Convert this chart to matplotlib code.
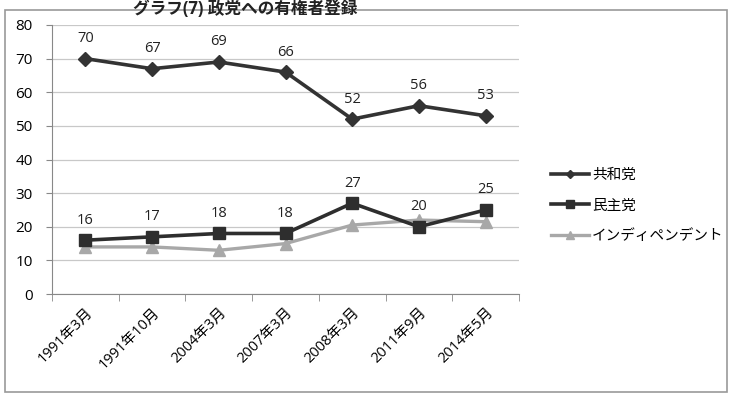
import numpy as np
from matplotlib import pyplot as plt
from matplotlib.patches import Rectangle

plt.rcParams['font.family'] = ['Open Sans', 'Noto Sans CJK JP', 'DejaVu Sans']

#  data
dates = ['1991年3月', '1991年10月', '2004年3月', '2007年3月', '2008年3月', '2011年9月', '2014年5月']
rep = [70, 67, 69, 66, 52, 56, 53]
dem = [16, 17, 18, 18, 27, 20, 25]
ind = [14, 14, 13, 15, 20.5, 22, 21.5]

W, H = 733, 397
fig = plt.figure(figsize=(W/100, H/100), dpi=100)
ax = fig.add_axes([52/W, 1 - 294/H, (519-52)/W, (294-25)/H])

x = np.arange(len(dates))
ax.plot(x, ind, color='#a8a8a8', lw=2.4, marker='^', ms=9, label='インディペンデント', zorder=3)
ax.plot(x, dem, color='#2e2e2e', lw=2.6, marker='s', ms=9, label='民主党', zorder=4)
ax.plot(x, rep, color='#333333', lw=2.6, marker='D', ms=7.5, label='共和党', zorder=4)

for xi, v in zip(x, rep):
    ax.annotate(str(v), (xi, v), xytext=(0, 9), textcoords='offset points',
                ha='center', va='bottom', fontsize=10.5, color='#222222')
for xi, v in zip(x, dem):
    ax.annotate(str(v), (xi, v), xytext=(0, 9), textcoords='offset points',
                ha='center', va='bottom', fontsize=10.5, color='#222222')

ax.set_xlim(-0.5, len(dates) - 0.5)
ax.set_ylim(0, 80)
ax.set_yticks(range(0, 81, 10))
ax.set_xticks(x)
ax.set_xticklabels(dates, rotation=45, ha='right', va='top', rotation_mode='anchor', fontsize=10.5)
ax.set_xticks(np.arange(-0.5, len(dates)), minor=True)
ax.tick_params(axis='x', which='major', length=0, pad=8)
ax.tick_params(axis='x', which='minor', length=5, color='#888888', direction='out')
ax.tick_params(axis='y', length=4, color='#888888', labelsize=11, pad=10)
ax.grid(axis='y', color='#c8c8c8', lw=0.9)
ax.set_axisbelow(True)
for s in ['top', 'right']:
    ax.spines[s].set_visible(False)
ax.spines['left'].set_color('#888888')
ax.spines['bottom'].set_color('#888888')

h, l = ax.get_legend_handles_labels()
fig.legend(h[::-1], l[::-1], loc='upper left', bbox_to_anchor=(538/W, 1 - 155/H),
           frameon=False, fontsize=10.5, handlelength=2.6, labelspacing=1.05,
           handletextpad=0.2, markerscale=0.6)

# outer frame and title
fig.patches.append(Rectangle((5/W, 1 - 392/H), 722/W, (392-10)/H, transform=fig.transFigure,
                             fill=False, ec='#999999', lw=1.2))
fig.text(245/W, 1 - 9/H, 'グラフ(7) 政党への有権者登録', ha='center', va='center',
         fontsize=12, fontweight='bold', color='#222222')

fig.savefig('out.png', dpi=100)
